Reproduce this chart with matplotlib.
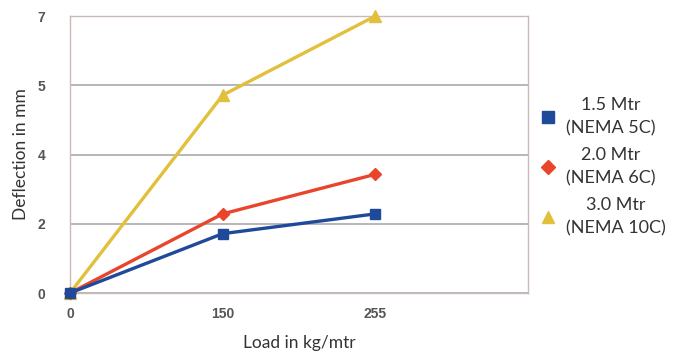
import matplotlib.pyplot as plt
from matplotlib.lines import Line2D

loads = ["0", "150", "255"]
yticks = [0, 1.75, 3.5, 5.25, 7]
ytick_labels = ["0", "2", "4", "5", "7"]

defl_5c = [0, 1.5, 2.0]
defl_6c = [0, 2.0, 3.0]
defl_10c = [0, 5.0, 7.0]

series = [
    ("1.5 Mtr\n(NEMA 5C)", defl_5c, "#1f4a9a", "s", 7.5),
    ("2.0 Mtr\n(NEMA 6C)", defl_6c, "#e8452c", "D", 6.5),
    ("3.0 Mtr\n(NEMA 10C)", defl_10c, "#e2c03c", "^", 8),
]

plt.rcParams['font.family'] = ['Lato', 'DejaVu Sans']

fig = plt.figure(figsize=(6.77, 3.59), dpi=100)
ax = fig.add_axes([0.1034, 0.1838, 0.6766, 0.7716])

xs = list(range(len(loads)))
handles = []
for i, (label, vals, color, marker, ms) in enumerate(series):
    ax.plot(xs, vals, color=color, lw=2.4, marker=marker, ms=ms,
            zorder=5 - i, clip_on=False)
    handles.append(Line2D([], [], color=color, marker=marker, ms=ms + 1,
                          lw=0, label=label))

ax.set_xlim(0, 3)
ax.set_ylim(0, 7)
ax.set_xticks(xs)
ax.set_xticklabels(loads)
ax.set_yticks(yticks)
ax.set_yticklabels(ytick_labels)
ax.grid(axis='y', color='#aaaaaa', lw=1.2)
ax.set_axisbelow(True)
for s in ax.spines.values():
    s.set_color('#c9b9b9')
    s.set_linewidth(1.0)
ax.tick_params(length=0, labelsize=10, labelcolor='#555555')
ax.tick_params(axis='y', pad=18)
ax.tick_params(axis='x', pad=10)
for t in ax.get_xticklabels() + ax.get_yticklabels():
    t.set_family(['Liberation Sans', 'DejaVu Sans'])
    t.set_fontweight('bold')

ax.set_xlabel("Load in kg/mtr", fontsize=12.5, color='#333333', labelpad=10)
ax.set_ylabel("Deflection in mm", fontsize=12.5, color='#333333', labelpad=6)

leg = fig.legend(handles=handles, loc='center left',
                 bbox_to_anchor=(0.775, 0.535), frameon=False,
                 fontsize=13, labelspacing=0.6, handlelength=0.8,
                 handletextpad=0.6)
for t in leg.get_texts():
    t.set_multialignment('center')
    t.set_linespacing(1.55)
    t.set_color('#333333')

fig.savefig("out.png", dpi=100)
